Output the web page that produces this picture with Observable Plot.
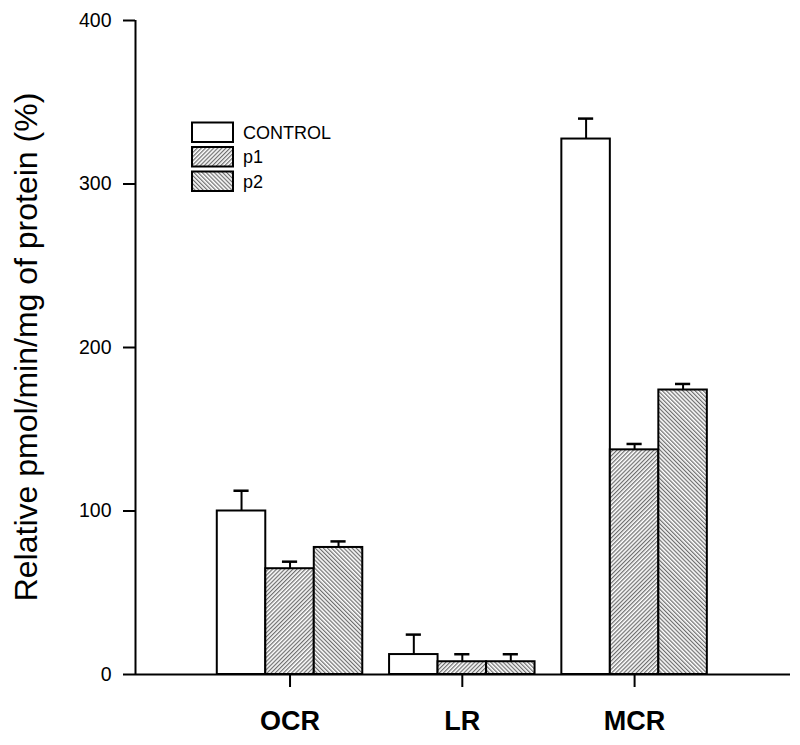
<!DOCTYPE html>
<html><head><meta charset="utf-8">
<script src="https://cdn.jsdelivr.net/npm/d3@7"></script>
<script src="https://cdn.jsdelivr.net/npm/@observablehq/plot@0.6"></script>
<style>body{margin:0;background:#fff}</style>
</head><body><div id="chart"></div>
<script>
const groups = ["OCR", "LR", "MCR"];
const series = ["CONTROL", "p1", "p2"];
const controlValues = [100, 12.2, 327.5];
const controlErrors = [12.4, 12.2, 12.5];
const p1Values = [64.7, 7.8, 137.4];
const p1Errors = [4.3, 4.6, 3.6];
const p2Values = [77.7, 7.8, 174];
const p2Errors = [3.7, 4.6, 3.7];
const yTicks = [0, 100, 200, 300, 400];
const yLabel = "Relative pmol/min/mg of protein (%)";

const seriesValues = [controlValues, p1Values, p2Values];
const seriesErrors = [controlErrors, p1Errors, p2Errors];
const patternIds = ["pat-control", "pat-p1", "pat-p2"];

const data = [];
series.forEach((s, si) => groups.forEach((g, gi) => {
  data.push({series: s, si, group: g, gi, value: seriesValues[si][gi], err: seriesErrors[si][gi]});
}));

const BW = 0.2815, CAP = 0.044;
const xDomain = [-0.897, 2.905];
const center = d => d.gi + (d.si - 1) * BW;

const barMarks = series.map((s, si) => Plot.rectY(data.filter(d => d.si === si), {
  x1: d => center(d) - BW / 2, x2: d => center(d) + BW / 2, y1: 0, y2: "value",
  fill: si === 0 ? "white" : `url(#${patternIds[si]})`, stroke: "black", strokeWidth: 2
}));

const chart = Plot.plot({
  width: 800, height: 745,
  marginLeft: 135, marginRight: 10, marginTop: 20, marginBottom: 71,
  x: {domain: xDomain},
  y: {domain: [0, 400]},
  style: {fontFamily: "'Liberation Sans', Arial, sans-serif", background: "white", color: "black", overflow: "visible"},
  marks: [
    Plot.ruleX(data, {x: center, y1: "value", y2: d => d.value + d.err, stroke: "black", strokeWidth: 2}),
    Plot.ruleY(data, {x1: d => center(d) - CAP, x2: d => center(d) + CAP, y: d => d.value + d.err, stroke: "black", strokeWidth: 2.5}),
    ...barMarks,
    Plot.axisY({ticks: yTicks, tickSize: 12, tickPadding: 12, fontSize: 19.5, label: null, strokeWidth: 2}),
    Plot.axisX({ticks: [0, 1, 2], tickFormat: i => groups[i], tickSize: 13, tickPadding: 23, fontSize: 27, fontWeight: "bold", label: null, strokeWidth: 2}),
    Plot.ruleY([0], {strokeWidth: 2}),
    Plot.ruleX([xDomain[0]], {y1: 0, y2: 400, strokeWidth: 2})
  ]
});

const svg = d3.select(chart);
const defs = svg.insert("defs", ":first-child");
[["pat-p1", 45], ["pat-p2", -45]].forEach(([id, rot]) => {
  const p = defs.append("pattern").attr("id", id).attr("patternUnits", "userSpaceOnUse")
    .attr("width", 2.9).attr("height", 10).attr("patternTransform", `rotate(${rot})`);
  p.append("rect").attr("width", 2.9).attr("height", 10).attr("fill", "white");
  p.append("line").attr("x1", 0.7).attr("x2", 0.7).attr("y1", 0).attr("y2", 10)
    .attr("stroke", "#333").attr("stroke-width", 0.9);
});

// y-axis title
svg.append("text").attr("transform", "translate(37,347) rotate(-90)")
  .attr("text-anchor", "middle").attr("font-size", 32).attr("fill", "black")
  .attr("font-family", "'Liberation Sans', Arial, sans-serif").text(yLabel);

// legend
const lg = svg.append("g").attr("font-family", "'Liberation Sans', Arial, sans-serif").attr("text-anchor", "start");
series.forEach((s, si) => {
  const y0 = 122.5 + si * 24.5;
  lg.append("rect").attr("x", 192).attr("y", y0).attr("width", 41).attr("height", 19.5)
    .attr("fill", si === 0 ? "white" : `url(#${patternIds[si]})`).attr("stroke", "black").attr("stroke-width", 2);
  lg.append("text").attr("x", 243).attr("y", y0 + 16).attr("font-size", 18).attr("fill", "black").text(s);
});

document.getElementById("chart").appendChild(chart);
</script>
</body></html>
